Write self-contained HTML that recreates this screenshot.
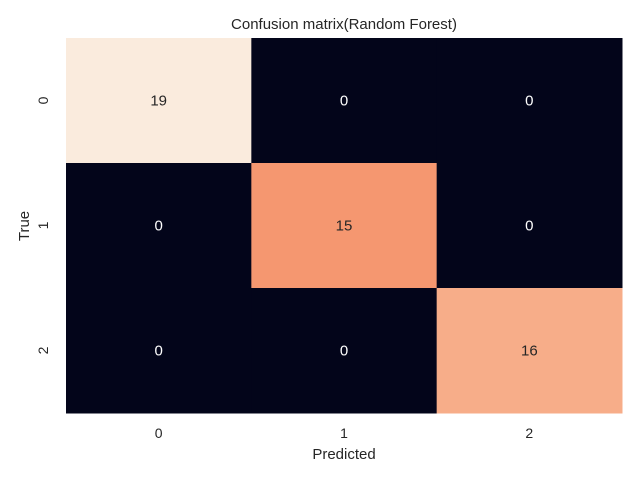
<!DOCTYPE html>
<html><head><meta charset="utf-8"><style>
html,body{margin:0;padding:0;background:#fff;}
svg{display:block;font-family:"Liberation Sans","DejaVu Sans",sans-serif;}
</style></head><body>
<svg id="chart" width="640" height="480">
<text x="344" y="29" text-anchor="middle" font-size="15" fill="#262626">Confusion matrix(Random Forest)</text>
<g id="cells"></g>
<g id="xticks"></g>
<g id="yticks"></g>
<text x="344" y="459" text-anchor="middle" font-size="15" fill="#262626">Predicted</text>
<text transform="translate(29,226) rotate(-90)" text-anchor="middle" font-size="15" fill="#262626">True</text>
</svg>
<script>
const xLabels = ["0","1","2"];
const yLabels = ["0","1","2"];
const row0 = [19,0,0];
const row1 = [0,15,0];
const row2 = [0,0,16];
const matrix = [row0,row1,row2];
const L=66,R=622,T=38,B=413;
const cw=(R-L)/xLabels.length, ch=(B-T)/yLabels.length;
const stops=[[0,[3,5,26]],[0.2,[76,29,75]],[0.4,[161,26,91]],[0.6,[232,63,63]],[0.8,[246,156,115]],[1,[250,235,221]]];
function cmap(t){for(let i=1;i<stops.length;i++){if(t<=stops[i][0]){const a=stops[i-1],b=stops[i];const f=(t-a[0])/(b[0]-a[0]);const c=a[1].map((v,k)=>Math.round(v+(b[1][k]-v)*f));return {c:`rgb(${c})`,light:t>0.5};}}return {c:"rgb(250,235,221)",light:true};}
const all=matrix.flat();const mn=Math.min(...all),mx=Math.max(...all);
const NS="http://www.w3.org/2000/svg";
const cells=document.getElementById('cells');
matrix.forEach((row,i)=>row.forEach((v,j)=>{
  const col=cmap((v-mn)/(mx-mn));
  const r=document.createElementNS(NS,'rect');
  r.setAttribute('x',L+j*cw);r.setAttribute('y',T+i*ch);r.setAttribute('width',cw+0.5);r.setAttribute('height',ch+0.5);r.setAttribute('fill',col.c);
  
  
  cells.appendChild(r);
  const t=document.createElementNS(NS,'text');
  t.setAttribute('x',L+(j+0.5)*cw);t.setAttribute('y',T+(i+0.5)*ch+5);t.setAttribute('text-anchor','middle');t.setAttribute('font-size','15');
  t.setAttribute('fill',col.light?'#262626':'#ffffff');t.textContent=v;
  
  
  cells.appendChild(t);
}));
const xt=document.getElementById('xticks');
xLabels.forEach((s,j)=>{const t=document.createElementNS(NS,'text');t.setAttribute('x',L+(j+0.5)*cw);t.setAttribute('y',438);t.setAttribute('text-anchor','middle');t.setAttribute('font-size','14');t.setAttribute('fill','#262626');t.textContent=s;
  
  
  xt.appendChild(t);});
const yt=document.getElementById('yticks');
yLabels.forEach((s,i)=>{const t=document.createElementNS(NS,'text');const y=T+(i+0.5)*ch;t.setAttribute('transform',`translate(48,${y}) rotate(-90)`);t.setAttribute('text-anchor','middle');t.setAttribute('font-size','14');t.setAttribute('fill','#262626');t.textContent=s;
  
  
  yt.appendChild(t);});
</script>
</body></html>
